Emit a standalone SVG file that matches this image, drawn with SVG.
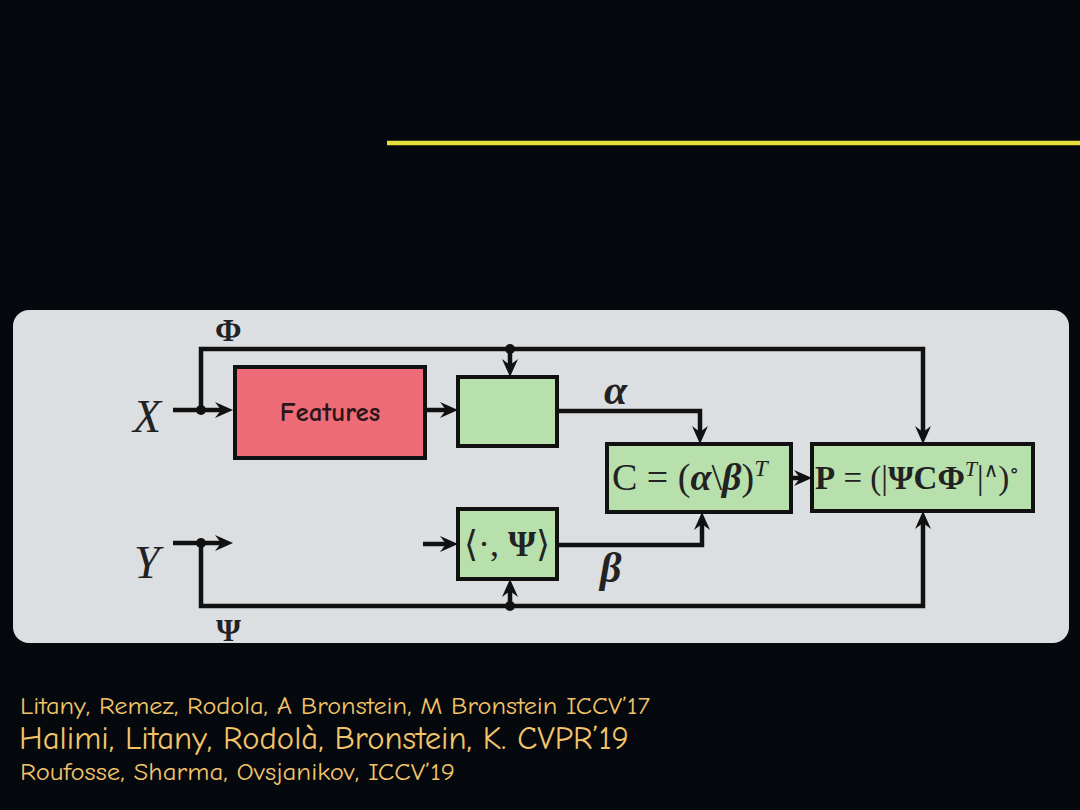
<svg xmlns="http://www.w3.org/2000/svg" width="1080" height="810" viewBox="0 0 1080 810">
<defs>
<style>
.box{stroke:#111;stroke-width:4}
.green{fill:#b8e0ac}
.red{fill:#ee6b78}
.wire{fill:none;stroke:#111;stroke-width:4.5;stroke-linejoin:miter}
.arr{marker-end:url(#ah)}
.math{font-family:"Liberation Serif","DejaVu Serif",serif;fill:#222}
.cite{font-family:"Comic Sans MS","Comic Neue","Open Sans",sans-serif;fill:#f2c46a}
</style>
<marker id="ah" viewBox="0 0 18 16" refX="11" refY="8" markerWidth="18" markerHeight="16" markerUnits="userSpaceOnUse" orient="auto">
<path d="M0,0 L18,8 L0,16 L6,8 z" fill="#111"/>
</marker>
</defs>
<rect x="0" y="0" width="1080" height="810" fill="#05080c"/>
<line x1="387" y1="143" x2="1080" y2="143" stroke="#e6df3c" stroke-width="4.5"/>
<rect x="13" y="310" width="1056" height="333" rx="16" ry="16" fill="#dcdfe2"/>

<g id="connectors">
<path class="wire arr" d="M173,410 H226"/>
<path class="wire arr" d="M201,410 V349 H923 V437"/>
<path class="wire arr" d="M510,349 V370"/>
<path class="wire arr" d="M425,410 H451"/>
<path class="wire arr" d="M557,411 H700 V437"/>
<path class="wire arr" d="M791,478 H805"/>
<path class="wire arr" d="M173,543 H226"/>
<path class="wire arr" d="M423,544 H451"/>
<path class="wire arr" d="M557,545 H702 V519"/>
<path class="wire arr" d="M201,543 V606 H923 V518"/>
<path class="wire arr" d="M510,606 V586"/>
<circle cx="201" cy="410" r="5" fill="#111"/>
<circle cx="201" cy="543" r="5" fill="#111"/>
<circle cx="510" cy="349" r="5" fill="#111"/>
<circle cx="510" cy="606" r="5" fill="#111"/>
</g>

<g id="label-X"><text class="math" x="133" y="432" font-size="46" font-style="italic">X</text></g>
<g id="label-Y"><text class="math" x="134" y="578" font-size="46" font-style="italic">Y</text></g>
<g id="label-Phi"><text class="math" x="215" y="341" font-size="32" font-weight="bold">Φ</text></g>
<g id="label-Psi"><text class="math" x="216" y="641" font-size="32" font-weight="bold">Ψ</text></g>
<g id="label-alpha"><text class="math" x="604" y="404" font-size="42" font-weight="bold" font-style="italic">α</text></g>
<g id="label-beta"><text class="math" x="600" y="582" font-size="42" font-weight="bold" font-style="italic">β</text></g>

<g id="features">
<rect class="box red" x="235" y="367" width="190" height="91"/>
<text x="330" y="421" text-anchor="middle" font-family="Comic Sans MS,Comic Neue,Liberation Sans,sans-serif" font-weight="bold" font-size="27" fill="#2a1618">Features</text>
</g>

<g id="encoder">
<rect class="box green" x="458" y="377" width="99" height="69"/>
</g>

<g id="projection">
<rect class="box green" x="458" y="509" width="99" height="70"/>
<text class="math" x="507" y="556" text-anchor="middle" font-size="36">⟨·, <tspan font-weight="bold">Ψ</tspan>⟩</text>
</g>

<g id="C-box">
<rect class="box green" x="607" y="444" width="184" height="68"/>
<text class="math" x="612" y="490" font-size="38">C = (<tspan font-weight="bold" font-style="italic">α</tspan>\<tspan font-weight="bold" font-style="italic">β</tspan>)<tspan font-size="24" font-style="italic" dy="-14">T</tspan></text>
</g>

<g id="P-box">
<rect class="box green" x="812" y="444" width="221" height="67"/>
<text class="math" x="815" y="489" font-size="33"><tspan font-weight="bold">P</tspan> = (|<tspan font-weight="bold">ΨCΦ</tspan><tspan font-size="22" font-style="italic" dy="-13">T</tspan><tspan dy="13">|</tspan><tspan font-size="20" dy="-12">∧</tspan><tspan dy="12">)</tspan><tspan font-size="20" dy="-12">∘</tspan></text>
</g>

<g id="citations">
<text class="cite" x="20" y="714" font-size="25" textLength="630" lengthAdjust="spacingAndGlyphs">Litany, Remez, Rodola, A Bronstein, M Bronstein ICCV’17</text>
<text class="cite" x="19" y="749" font-size="32" textLength="610" lengthAdjust="spacingAndGlyphs">Halimi, Litany, Rodolà, Bronstein, K. CVPR’19</text>
<text class="cite" x="20" y="780" font-size="25" textLength="435" lengthAdjust="spacingAndGlyphs">Roufosse, Sharma, Ovsjanikov, ICCV’19</text>
</g>
</svg>
